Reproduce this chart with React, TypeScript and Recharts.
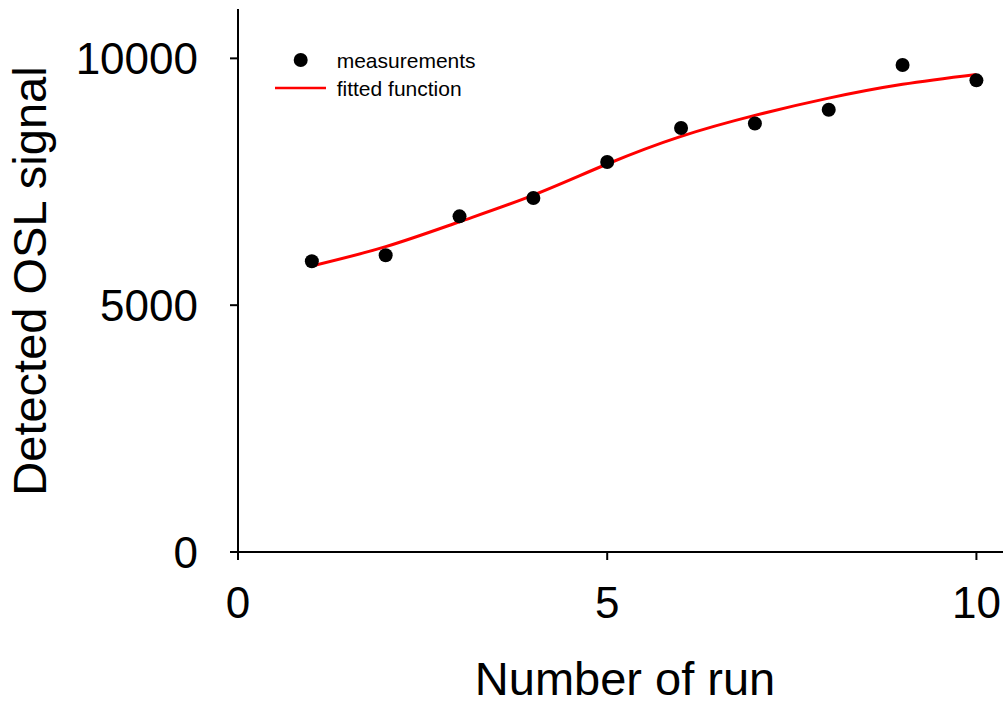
import React from "react";
import {
  ComposedChart,
  Line,
  Scatter,
  XAxis,
  YAxis,
  Legend,
} from "recharts";

const runs = [1, 2, 3, 4, 5, 6, 7, 8, 9, 10];
const measured = [5890, 6010, 6800, 7170, 7900, 8590, 8680, 8960, 9865, 9555];
const fitted = [5795, 6185, 6690, 7230, 7860, 8420, 8845, 9195, 9475, 9675];
const xTicks = [0, 5, 10];
const yTicks = [0, 5000, 10000];

const data = runs.map((run, i) => ({
  run,
  measured: measured[i],
  fitted: fitted[i],
}));

const FONT = "'Liberation Sans', Arial, Helvetica, sans-serif";

const Dot = (props: any) => (
  <circle cx={props.cx} cy={props.cy} r={7} fill="#000" />
);

const LegendBox = () => (
  <svg width={220} height={60} style={{ display: "block" }}>
    <circle cx={30.7} cy={15} r={7} fill="#000" />
    <text x={66.7} y={23} fontSize={21} fontFamily={FONT} fill="#000">
      measurements
    </text>
    <line x1={5} x2={56} y1={43} y2={43} stroke="#ff0000" strokeWidth={2.5} />
    <text x={66.7} y={50.5} fontSize={21} fontFamily={FONT} fill="#000">
      fitted function
    </text>
  </svg>
);

export default function App() {
  return (
    <div style={{ position: "absolute", left: 0, top: 0 }}>
      <ComposedChart
        width={1003}
        height={706}
        data={data}
        margin={{ top: 9, right: 0, left: 0, bottom: 0 }}
      >
        <XAxis
          type="number"
          dataKey="run"
          domain={[0, 10.36]}
          ticks={xTicks}
          allowDataOverflow
          height={154}
          stroke="#000"
          strokeWidth={2}
          tickSize={8}
          tickMargin={27}
          tick={{ fill: "#000", fontSize: 44, fontFamily: FONT }}
          label={() => (
            <text
              x={625}
              y={695}
              textAnchor="middle"
              fontSize={47}
              fontFamily={FONT}
              fill="#000"
            >
              Number of run
            </text>
          )}
        />
        <YAxis
          type="number"
          domain={[0, 11000]}
          ticks={yTicks}
          width={238}
          stroke="#000"
          strokeWidth={2}
          tickSize={8}
          tickMargin={32}
          tick={{ fill: "#000", fontSize: 44, fontFamily: FONT }}
          label={() => (
            <text
              x={46}
              y={281}
              transform="rotate(-90 46 281)"
              textAnchor="middle"
              fontSize={47}
              fontFamily={FONT}
              fill="#000"
            >
              Detected OSL signal
            </text>
          )}
        />
        <Legend
          layout="horizontal"
          verticalAlign="middle"
          align="center"
          content={<LegendBox />}
          wrapperStyle={{ position: "absolute", left: 270, top: 45, width: 220 }}
        />
        <Line
          type="natural"
          dataKey="fitted"
          stroke="#ff0000"
          strokeWidth={3}
          dot={false}
          isAnimationActive={false}
        />
        <Scatter
          dataKey="measured"
          fill="#000"
          shape={<Dot />}
          isAnimationActive={false}
        />
      </ComposedChart>
    </div>
  );
}
